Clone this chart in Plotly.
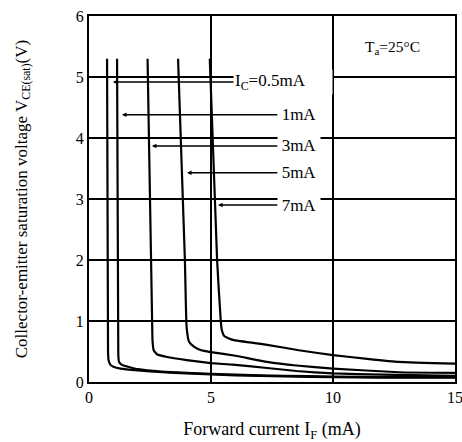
import plotly.graph_objects as go

# Data
ic_labels = ["I<sub>C</sub>=0.5mA", "1mA", "3mA", "5mA", "7mA"]

x_05 = [0.74, 0.78, 0.80, 0.88, 1.0, 1.3, 2.0, 3.0, 4.0, 6.0, 8.0, 10.0, 12.0, 15.0]
y_05 = [5.3, 0.50, 0.36, 0.28, 0.25, 0.22, 0.19, 0.16, 0.14, 0.11, 0.09, 0.08, 0.07, 0.07]

x_1 = [1.15, 1.20, 1.23, 1.35, 1.6, 2.0, 3.0, 4.0, 6.0, 8.0, 10.0, 12.0, 15.0]
y_1 = [5.3, 0.45, 0.33, 0.28, 0.25, 0.21, 0.17, 0.15, 0.12, 0.10, 0.09, 0.08, 0.08]

x_3 = [2.40, 2.60, 2.65, 2.8, 3.2, 4.0, 5.0, 6.0, 7.3, 8.5, 10.0, 12.0, 15.0]
y_3 = [5.3, 0.70, 0.52, 0.45, 0.41, 0.36, 0.31, 0.28, 0.23, 0.18, 0.14, 0.12, 0.10]

x_5 = [3.65, 3.93, 4.00, 4.10, 4.3, 4.6, 5.0, 6.0, 7.3, 8.5, 10.0, 12.7, 15.0]
y_5 = [5.3, 2.0, 0.90, 0.66, 0.58, 0.52, 0.49, 0.43, 0.33, 0.27, 0.22, 0.16, 0.15]

x_7 = [4.95, 5.25, 5.40, 5.45, 5.55, 5.9, 7.3, 8.6, 10.0, 11.4, 12.7, 15.0]
y_7 = [5.3, 2.0, 1.0, 0.84, 0.75, 0.69, 0.61, 0.52, 0.44, 0.38, 0.33, 0.30]

# label annotations: arrow head x, y level, label center x, box width
arrow_head_x = [0.98, 1.35, 2.58, 4.02, 5.29]
arrow_y = [4.92, 4.38, 3.87, 3.43, 2.90]
label_x = [7.95, 8.6, 8.6, 8.6, 8.6]
label_w = [96, 40, 40, 40, 40]

x_ticks = [0, 5, 10, 15]
y_ticks = [0, 1, 2, 3, 4, 5, 6]

FONT = "Liberation Serif, Times New Roman, serif"

fig = go.Figure()
for xs, ys in [(x_05, y_05), (x_1, y_1), (x_3, y_3), (x_5, y_5), (x_7, y_7)]:
    fig.add_trace(go.Scatter(x=xs, y=ys, mode="lines",
                             line=dict(color="black", width=2.2, shape="spline", smoothing=0.4),
                             showlegend=False, hoverinfo="skip"))

for lbl, hx, yy, lx, w in zip(ic_labels, arrow_head_x, arrow_y, label_x, label_w):
    fig.add_annotation(x=hx, y=yy, ax=lx, ay=yy, xref="x", yref="y", axref="x", ayref="y",
                       text=lbl, showarrow=True, arrowhead=2, arrowsize=0.6, arrowwidth=1.5,
                       arrowcolor="black", standoff=0, startstandoff=0,
                       bgcolor="white", width=w, align="left" if w > 50 else "center",
                       borderpad=1, font=dict(family=FONT, size=17, color="black"))

fig.add_annotation(x=12.45, y=5.48, xref="x", yref="y", text="T<sub>a</sub>=25°C",
                   showarrow=False, font=dict(family=FONT, size=15.5, color="black"))

axis_common = dict(showline=True, linecolor="black", linewidth=2, mirror=True,
                   showgrid=True, gridcolor="black", gridwidth=1.5, zeroline=False,
                   automargin=False, ticklabeloverflow="allow",
                   ticks="", tickfont=dict(family=FONT, size=16, color="black"))

fig.update_xaxes(range=[0, 15], tickvals=x_ticks, **axis_common,
                 title=dict(text="Forward current I<sub>F</sub> (mA)",
                            font=dict(family=FONT, size=18, color="black"), standoff=20))
fig.update_yaxes(range=[0, 6], tickvals=y_ticks, **axis_common,
                 title=dict(text="Collector-emitter saturation voltage V<sub>CE(sat)</sub>(V)",
                            font=dict(family=FONT, size=17, color="black"), standoff=44))

fig.update_layout(width=462, height=442, margin=dict(l=89, r=7, t=16, b=60),
                  font=dict(family=FONT),
                  plot_bgcolor="white", paper_bgcolor="white")

fig.write_html("out.html")
